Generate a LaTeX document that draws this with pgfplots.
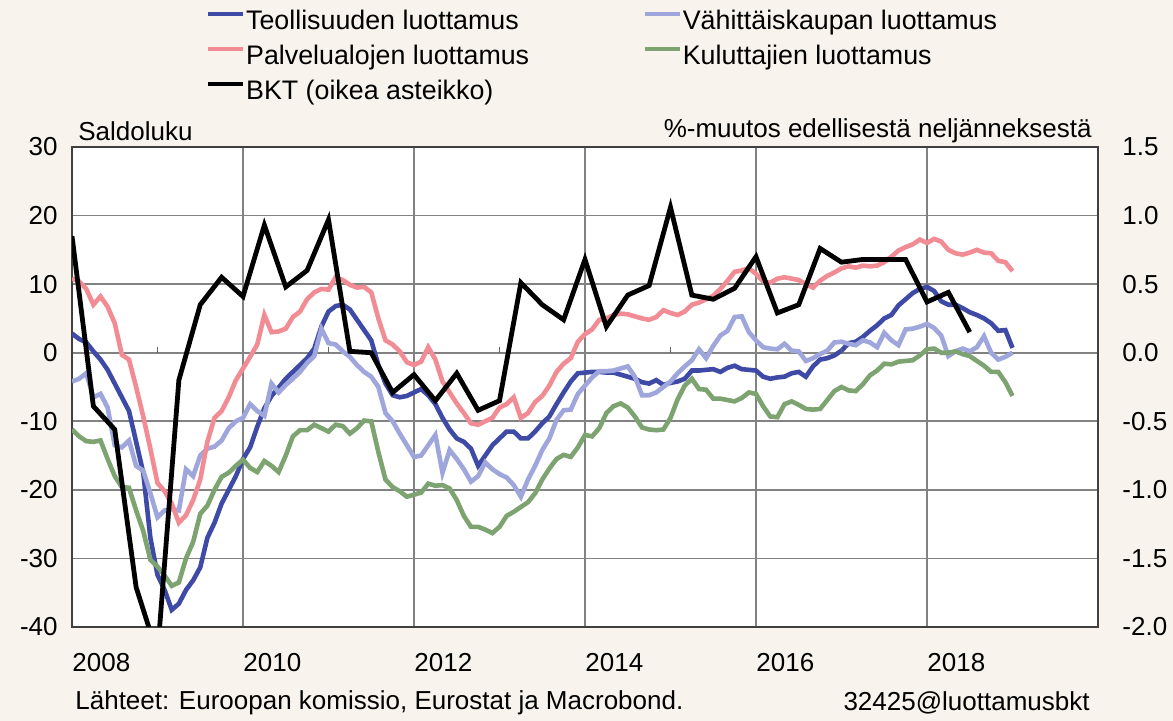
\documentclass[border=0pt]{standalone}
\usepackage{pgfplots}
\pgfplotsset{compat=1.18}
\usepackage{pgfplotstable}
\usepackage{fontspec}
\setmainfont{Liberation Sans}
\definecolor{bg}{RGB}{248,244,237}
\definecolor{cind}{RGB}{62,74,166}
\definecolor{cret}{RGB}{158,166,220}
\definecolor{cserv}{RGB}{242,140,148}
\definecolor{ccons}{RGB}{125,163,113}
\definecolor{gridc}{RGB}{130,130,130}

\pgfplotstableread{
m ind ret serv cons
0 2.8 -4.2 10.8 -11.2
1 2.0 -3.8 10.4 -12.2
2 1.5 -3.0 9.3 -12.9
3 0.2 -6.5 7.0 -13.0
4 -1.0 -6.0 8.2 -12.8
5 -2.5 -8.0 6.7 -15.5
6 -4.5 -13.5 4.3 -18.0
7 -6.5 -13.8 -0.3 -19.6
8 -8.5 -12.8 -1.0 -19.7
9 -13.0 -16.5 -5.0 -23.0
10 -17.5 -17.2 -9.3 -26.0
11 -27.0 -20.5 -14.0 -30.2
12 -32.4 -24.0 -19.0 -31.2
13 -34.6 -23.0 -20.2 -32.5
14 -37.5 -22.8 -22.0 -34.0
15 -36.6 -23.0 -24.8 -33.5
16 -34.6 -17.0 -23.7 -30.0
17 -33.2 -18.0 -21.5 -27.6
18 -31.3 -15.0 -18.5 -23.5
19 -27.0 -14.0 -13.0 -22.3
20 -24.8 -13.7 -9.5 -20.0
21 -22.0 -12.8 -8.5 -18.1
22 -20.0 -11.0 -6.5 -17.5
23 -18.0 -10.0 -4.0 -16.5
24 -15.5 -9.5 -2.3 -15.6
25 -13.8 -7.5 -0.6 -16.8
26 -10.8 -8.5 1.2 -17.4
27 -8.1 -9.2 5.5 -15.8
28 -6.3 -4.5 3.0 -16.5
29 -5.1 -5.8 3.1 -17.4
30 -3.8 -4.7 3.5 -15.0
31 -2.8 -3.8 5.2 -12.2
32 -1.8 -2.8 6.0 -11.3
33 -0.8 -1.5 7.8 -11.3
34 0.6 -0.5 8.8 -10.5
35 3.8 3.5 9.3 -11.0
36 6.0 1.4 9.2 -11.5
37 6.8 1.2 11.0 -10.5
38 7.0 0.2 10.6 -10.7
39 6.3 -0.6 9.9 -11.8
40 4.8 -1.8 9.5 -11.0
41 3.3 -2.8 9.6 -9.9
42 1.8 -3.5 8.8 -10.0
43 -1.8 -5.0 5.0 -14.5
44 -4.5 -8.8 1.8 -18.5
45 -6.2 -10.0 1.2 -19.6
46 -6.5 -11.8 0.2 -20.2
47 -6.3 -13.5 -1.4 -21.0
48 -5.8 -15.2 -1.8 -20.7
49 -5.3 -15.0 -1.3 -20.4
50 -6.2 -13.5 0.8 -19.1
51 -7.5 -12.0 -1.0 -19.4
52 -9.5 -17.5 -4.2 -19.3
53 -11.2 -14.2 -5.8 -19.8
54 -12.5 -15.5 -7.4 -21.5
55 -13.0 -17.0 -8.8 -23.8
56 -14.0 -18.8 -10.3 -25.4
57 -16.5 -18.0 -10.5 -25.4
58 -15.0 -16.0 -10.0 -25.8
59 -13.5 -17.0 -9.5 -26.3
60 -12.5 -17.7 -8.0 -25.4
61 -11.5 -18.2 -7.5 -23.8
62 -11.5 -19.3 -6.5 -23.2
63 -12.5 -21.0 -9.5 -22.5
64 -12.5 -18.5 -8.8 -21.8
65 -11.5 -16.5 -7.2 -20.5
66 -10.3 -14.2 -6.3 -18.5
67 -9.3 -12.5 -4.8 -16.9
68 -7.5 -9.8 -2.8 -15.5
69 -5.8 -8.4 -1.6 -14.9
70 -4.2 -8.3 -0.8 -15.2
71 -3.0 -6.0 1.6 -13.8
72 -2.9 -4.8 2.7 -12.0
73 -2.8 -3.6 3.4 -12.2
74 -2.8 -2.7 4.8 -11.0
75 -2.9 -2.7 5.0 -8.8
76 -2.9 -2.6 5.5 -7.8
77 -3.2 -2.3 5.7 -7.4
78 -3.5 -2.0 5.6 -8.0
79 -3.8 -3.5 5.3 -9.3
80 -4.3 -6.2 5.0 -10.9
81 -4.5 -6.2 4.8 -11.2
82 -4.0 -5.8 5.2 -11.3
83 -4.7 -5.0 6.2 -11.2
84 -4.4 -4.2 5.8 -9.5
85 -4.2 -3.0 5.5 -6.8
86 -3.8 -2.0 6.0 -4.8
87 -2.6 -1.1 7.0 -3.8
88 -2.6 0.5 7.3 -5.3
89 -2.5 -0.8 7.8 -5.4
90 -2.4 1.0 8.3 -6.7
91 -2.8 2.5 9.3 -6.7
92 -2.2 3.2 10.5 -6.9
93 -1.9 5.2 11.8 -7.1
94 -2.4 5.3 12.0 -6.6
95 -2.5 3.0 12.3 -5.8
96 -2.6 1.8 11.5 -6.0
97 -3.5 0.8 10.4 -7.8
98 -3.8 0.6 10.2 -9.3
99 -3.6 0.5 10.8 -9.4
100 -3.5 1.3 11.0 -7.5
101 -3.0 0.3 10.8 -7.1
102 -2.8 0.2 10.6 -7.6
103 -3.5 -1.2 10.0 -8.2
104 -2.0 -0.8 9.5 -8.3
105 -1.0 -0.2 10.5 -8.2
106 -0.8 0.3 11.2 -6.9
107 -0.4 1.5 11.7 -5.6
108 0.3 1.6 12.3 -5.0
109 1.4 1.3 12.6 -5.5
110 1.6 1.1 12.4 -5.6
111 2.3 1.8 12.7 -4.6
112 3.2 1.5 12.6 -3.3
113 4.0 0.8 12.7 -2.6
114 5.0 2.9 13.2 -1.6
115 5.5 1.8 14.0 -1.7
116 6.9 1.1 14.9 -1.3
117 7.8 3.4 15.4 -1.2
118 8.7 3.5 15.8 -1.1
119 9.3 3.8 16.5 -0.4
120 9.6 4.2 16.0 0.5
121 9.0 3.6 16.6 0.6
122 7.5 2.5 16.2 0.0
123 7.0 -0.5 15.0 0.0
124 7.0 0.2 14.5 0.2
125 6.5 0.6 14.3 -0.2
126 5.9 0.2 14.6 -0.5
127 5.5 0.8 15.0 -1.2
128 5.0 2.4 14.6 -1.9
129 4.3 0.0 14.5 -2.8
130 3.2 -1.0 13.4 -2.8
131 3.3 -0.6 13.2 -4.3
132 0.7 0.0 11.9 -6.3
}\conf

\pgfplotstableread{
q gdp
0 0.85
1 -0.39
2 -0.56
3 -1.71
4 -2.20
5 -0.20
6 0.35
7 0.55
8 0.41
9 0.93
10 0.48
11 0.60
12 0.97
13 0.01
14 0.00
15 -0.29
16 -0.16
17 -0.35
18 -0.15
19 -0.42
20 -0.35
21 0.51
22 0.35
23 0.24
24 0.68
25 0.19
26 0.42
27 0.49
28 1.06
29 0.42
30 0.39
31 0.47
32 0.70
33 0.29
34 0.35
35 0.76
36 0.66
37 0.68
38 0.68
39 0.68
40 0.37
41 0.44
42 0.15
}\gdp

\newcommand{\fs}{\fontsize{13}{15}\selectfont}
\newcommand{\lfs}{\fontsize{13.4}{15}\selectfont}

\begin{document}
\begin{tikzpicture}
\path[fill=bg, use as bounding box] (0,0) rectangle (586.5pt,360.5pt);

\begin{axis}[
  at={(36pt,47pt)}, anchor=south west,
  scale only axis, width=513pt, height=240pt,
  xmin=2008, xmax=2020, ymin=-40, ymax=30,
  xtick={2008,2010,2012,2014,2016,2018},
  xticklabels={2008,2010,2012,2014,2016,2018},
  ytick={-40,-30,...,30},
  grid=major,
  grid style={draw=gridc, line width=0.8pt},
  axis line style={draw=black!75, line width=1pt},
  axis background/.style={fill=white},
  major tick length=0pt,
  tick style={draw=none},
  ticklabel style={font=\fs},
  /pgf/number format/assume math mode=true,
  xticklabel style={anchor=north west, inner sep=0pt, yshift=-13pt},
  yticklabel style={anchor=east, inner sep=0pt, xshift=-7pt},
  legend columns=2,
  legend cell align=left,
  legend image code/.code={\draw[#1] (0pt,4.5pt) -- (17.5pt,4.5pt);},
  legend style={
    at={(axis description cs:0.1296,1.285)}, anchor=north west,
    draw=none, fill=none, inner sep=0pt, font=\lfs,
    nodes={inner xsep=0.5pt, inner ysep=0pt, text height=9.5pt, text depth=3pt},
    row sep=5pt,
    /tikz/every even column/.append style={column sep=56pt}
  },
]
\addplot[cind, line width=2.3pt] table[x expr=2008+\thisrow{m}/12, y=ind] {\conf};
\addlegendentry{Teollisuuden luottamus}
\addplot[cret, line width=2.3pt] table[x expr=2008+\thisrow{m}/12, y=ret] {\conf};
\addlegendentry{Vähittäiskaupan luottamus}
\addplot[cserv, line width=2.3pt] table[x expr=2008+\thisrow{m}/12, y=serv] {\conf};
\addlegendentry{Palvelualojen luottamus}
\addplot[ccons, line width=2.3pt] table[x expr=2008+\thisrow{m}/12, y=cons] {\conf};
\addlegendentry{Kuluttajien luottamus}
\addlegendimage{black, line width=2.4pt}
\addlegendentry{BKT (oikea asteikko)}
\draw[black!60, line width=0.6pt] (axis cs:2009,0) -- ++(0pt,3pt);
\draw[black!60, line width=0.6pt] (axis cs:2011,0) -- ++(0pt,3pt);
\draw[black!60, line width=0.6pt] (axis cs:2013,0) -- ++(0pt,3pt);
\draw[black!60, line width=0.6pt] (axis cs:2015,0) -- ++(0pt,3pt);
\draw[black!60, line width=0.6pt] (axis cs:2017,0) -- ++(0pt,3pt);
\end{axis}

\begin{axis}[
  at={(36pt,47pt)}, anchor=south west,
  scale only axis, width=513pt, height=240pt,
  xmin=2008, xmax=2020, ymin=-2, ymax=1.5,
  axis y line*=right, axis x line=none,
  ytick={-2,-1.5,...,1.5},
  axis line style={draw=black!75, line width=1pt},
  major tick length=0pt,
  tick style={draw=none},
  ticklabel style={font=\fs},
  /pgf/number format/assume math mode=true,
  yticklabel style={anchor=west, inner sep=0pt, xshift=12pt,
    /pgf/number format/.cd, fixed, fixed zerofill, precision=1},
]
\addplot[black, line width=2.4pt] table[x expr=2008+\thisrow{q}/4, y=gdp] {\gdp};
\end{axis}

\node[anchor=west, inner sep=0pt, font=\fs] at (39pt,295pt) {Saldoluku};
\node[anchor=east, inner sep=0pt, font=\fs] at (546pt,295pt) {\%-muutos edellisestä neljänneksestä};
\node[anchor=west, inner sep=0pt, font=\fs] at (37.5pt,9pt) {Lähteet: Euroopan komissio, Eurostat ja Macrobond.};
\node[anchor=east, inner sep=0pt, font=\fs] at (545pt,9pt) {32425@luottamusbkt};
\end{tikzpicture}
\end{document}
